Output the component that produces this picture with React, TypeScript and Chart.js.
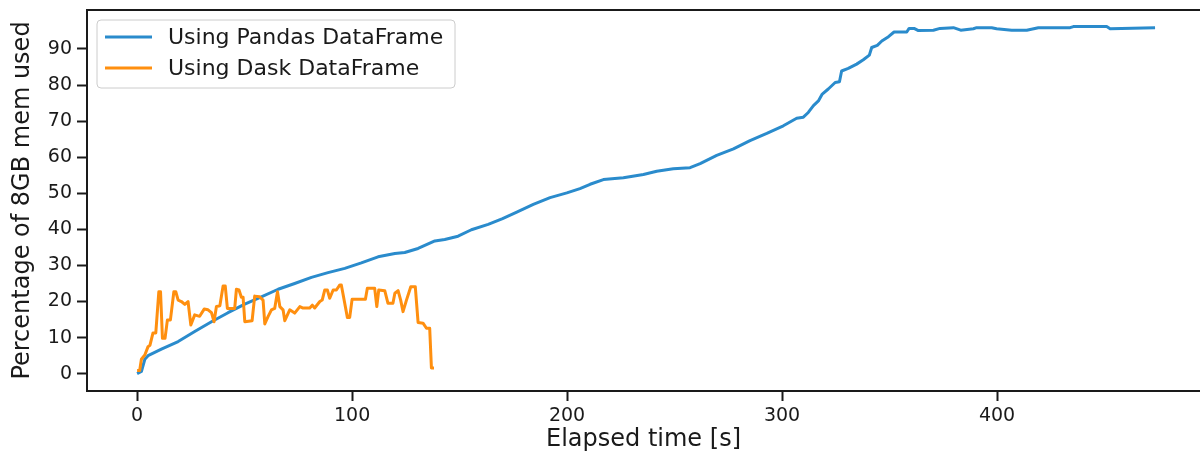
import React, { useEffect, useRef } from "react";
import { Chart, registerables } from "chart.js";

Chart.register(...registerables);

const pandasX = [0, 2, 3.6, 5.1, 11.3, 19.1, 26.8, 34.6, 42.3, 50.1, 57.8, 65.6, 73.3, 81.1, 88.8, 96.6, 104.3, 112.1, 119.9, 124.5, 130.7, 138.5, 143.1, 149.3, 155.5, 163.3, 170, 176.6, 184.3, 192.1, 199.9, 206, 210.7, 216.9, 226.2, 235.5, 241.7, 249.4, 257.2, 261.9, 269.6, 277.4, 285.1, 292.9, 300.6, 306.8, 309.9, 312.2, 314.6, 316.9, 318.7, 321.5, 324.7, 326.7, 327.7, 330.8, 334.7, 337.8, 340.6, 341.7, 344.3, 346.4, 349.5, 352.1, 358, 359.1, 361.4, 363.4, 370.4, 373.5, 379.7, 383.1, 389, 390.5, 397.5, 399.8, 406.8, 413.8, 419.2, 434, 435.5, 451, 452.6, 473.5];
const pandasY = [0, 0.6, 4.0, 5.0, 6.8, 8.9, 11.7, 14.4, 16.9, 19.3, 21.3, 23.4, 25.0, 26.7, 28.0, 29.2, 30.7, 32.4, 33.3, 33.6, 34.7, 36.8, 37.2, 38.1, 39.9, 41.4, 43.0, 44.8, 46.9, 48.8, 50.1, 51.3, 52.5, 53.8, 54.3, 55.2, 56.1, 56.8, 57.1, 58.2, 60.5, 62.3, 64.6, 66.6, 68.7, 70.8, 71.1, 72.4, 74.3, 75.6, 77.5, 78.9, 80.7, 80.9, 83.9, 84.6, 85.8, 87.0, 88.3, 90.4, 91, 92.2, 93.4, 94.7, 94.7, 95.7, 95.7, 95.1, 95.2, 95.7, 95.9, 95.2, 95.6, 95.9, 95.9, 95.6, 95.2, 95.2, 95.9, 95.9, 96.2, 96.2, 95.6, 95.9];

const daskX = [0, 1.2, 2, 3.6, 5.1, 6, 7.4, 8.7, 10.1, 10.9, 11.8, 13, 14.1, 15.5, 17.1, 18, 19.1, 20.6, 22.2, 23.7, 25, 26.8, 29.1, 31.2, 33, 34.6, 35.8, 36.9, 38.5, 40, 41, 42, 45.4, 46.2, 47.4, 48.5, 49.3, 50.1, 53.5, 54.7, 57, 58.6, 59.4, 60.9, 62.5, 64, 65.3, 66.4, 67.9, 68.7, 71, 73.3, 75.7, 77.2, 80.3, 81.5, 82.6, 85, 86.1, 87.3, 88.5, 89.6, 91.2, 92.7, 94.3, 95, 96.3, 97.8, 98.9, 100, 106.2, 107.1, 110.5, 111.5, 112.4, 115.2, 116.7, 119, 119.9, 121.4, 122.6, 123.7, 125.3, 127.3, 129.4, 130.7, 133, 134.6, 136.1, 136.9, 138.1];
const daskY = [0.9, 0.9, 4, 5.2, 7.5, 7.9, 11.3, 11.3, 22.7, 22.7, 9.8, 9.8, 14.9, 14.9, 22.7, 22.7, 20.4, 20, 19.2, 20, 13.5, 16.3, 15.9, 17.9, 17.7, 16.9, 14.4, 18.6, 18.8, 24.3, 24.3, 18.1, 18.1, 23.4, 23.2, 21.2, 21.2, 14.4, 14.7, 21.5, 21.3, 20.4, 13.8, 15.8, 17.7, 18.1, 22.7, 18.6, 17.7, 14.7, 17.7, 16.8, 18.6, 18.2, 18.2, 19.0, 18.2, 20, 20.4, 23.2, 23.2, 20.9, 23.2, 23.2, 24.6, 24.6, 20.4, 15.6, 15.6, 20.6, 20.6, 23.7, 23.7, 18.6, 23.2, 23.0, 19.5, 19.5, 22.3, 23.0, 20.4, 17.2, 20.4, 24.1, 24.1, 14.2, 14.0, 12.6, 12.6, 1.6, 1.6];

const seriesLabels = ["Using Pandas DataFrame", "Using Dask DataFrame"];
const xTicks = [0, 100, 200, 300, 400];
const yTicks = [0, 10, 20, 30, 40, 50, 60, 70, 80, 90];

const BLUE = "#2a8bcc";
const ORANGE = "#ff8f0f";
const INK = "#1a1a1a";
const FONT = "'DejaVu Sans', sans-serif";

const frame = {
  id: "frame",
  afterDraw(chart: any) {
    const { ctx, chartArea } = chart;
    ctx.save();
    ctx.strokeStyle = INK;
    ctx.lineWidth = 2;
    ctx.beginPath();
    ctx.moveTo(chartArea.left - 1, chartArea.top);
    ctx.lineTo(chartArea.right, chartArea.top);
    ctx.stroke();

    const bx = 97, by = 20, bw = 358, bh = 68, r = 4;
    ctx.fillStyle = "rgba(255,255,255,0.85)";
    ctx.strokeStyle = "#cccccc";
    ctx.lineWidth = 1;
    ctx.beginPath();
    ctx.moveTo(bx + r, by);
    ctx.lineTo(bx + bw - r, by);
    ctx.arcTo(bx + bw, by, bx + bw, by + r, r);
    ctx.lineTo(bx + bw, by + bh - r);
    ctx.arcTo(bx + bw, by + bh, bx + bw - r, by + bh, r);
    ctx.lineTo(bx + r, by + bh);
    ctx.arcTo(bx, by + bh, bx, by + bh - r, r);
    ctx.lineTo(bx, by + r);
    ctx.arcTo(bx, by, bx + r, by, r);
    ctx.closePath();
    ctx.fill();
    ctx.stroke();
    const colors = [BLUE, ORANGE];
    const rows = [37, 68];
    ctx.font = `22px ${FONT}`;
    ctx.textBaseline = "middle";
    ctx.textAlign = "left";
    seriesLabels.forEach((lab, i) => {
      ctx.strokeStyle = colors[i];
      ctx.lineWidth = 3;
      ctx.beginPath();
      ctx.moveTo(105, rows[i]);
      ctx.lineTo(152, rows[i]);
      ctx.stroke();
      ctx.fillStyle = INK;
      ctx.fillText(lab, 168, rows[i] + 1);
    });
    ctx.restore();
  },
};

export default function App() {
  const ref = useRef<HTMLCanvasElement | null>(null);
  useEffect(() => {
    document.body.style.margin = "0";
    document.body.style.overflow = "hidden";
    const chart = new Chart(ref.current as HTMLCanvasElement, {
      type: "line",
      data: {
        datasets: [
          {
            label: seriesLabels[0],
            data: pandasX.map((x, i) => ({ x, y: pandasY[i] })),
            borderColor: BLUE,
            borderWidth: 3,
            pointRadius: 0,
            tension: 0,
            order: 1,
            borderJoinStyle: "round",
          },
          {
            label: seriesLabels[1],
            data: daskX.map((x, i) => ({ x, y: daskY[i] })),
            borderColor: ORANGE,
            borderWidth: 3,
            pointRadius: 0,
            tension: 0,
            order: 0,
            borderJoinStyle: "round",
          },
        ],
      },
      options: {
        responsive: false,
        animation: false,
        events: [],
        layout: { padding: { top: 10, left: 0, right: 0, bottom: 0 } },
        plugins: { legend: { display: false }, tooltip: { enabled: false } },
        scales: {
          x: {
            type: "linear",
            min: -23.3,
            max: 494.4,
            afterFit: (s: any) => { s.height = 64; s.paddingLeft = 0; s.paddingRight = 0; },
            afterBuildTicks: (s: any) => { s.ticks = xTicks.map((v) => ({ value: v })); },
            grid: { drawOnChartArea: false, drawTicks: true, tickLength: 10, tickWidth: 2, tickColor: INK },
            border: { display: true, color: INK, width: 2 },
            ticks: { color: INK, font: { family: FONT, size: 19 }, padding: 4, maxRotation: 0 },
            title: { display: true, text: "Elapsed time [s]", color: INK, font: { family: FONT, size: 24, lineHeight: 1 }, padding: { top: 0, bottom: 3 } },
          },
          y: {
            type: "linear",
            min: -4.8,
            max: 100.8,
            afterFit: (s: any) => { s.width = 87; s.paddingTop = 0; s.paddingBottom = 0; },
            afterBuildTicks: (s: any) => { s.ticks = yTicks.map((v) => ({ value: v })); },
            grid: { drawOnChartArea: false, drawTicks: true, tickLength: 10, tickWidth: 2, tickColor: INK },
            border: { display: true, color: INK, width: 2 },
            ticks: { color: INK, font: { family: FONT, size: 19 }, padding: 5 },
            title: { display: true, text: "Percentage of 8GB mem used", color: INK, font: { family: FONT, size: 24, lineHeight: 1 }, padding: { top: 11, bottom: 0 } },
          },
        },
      },
      plugins: [frame],
    });
    return () => chart.destroy();
  }, []);
  return (
    <div style={{ position: "absolute", left: 0, top: 0, width: 1200, height: 455 }}>
      <canvas ref={ref} width={1200} height={455} style={{ display: "block" }} />
    </div>
  );
}
